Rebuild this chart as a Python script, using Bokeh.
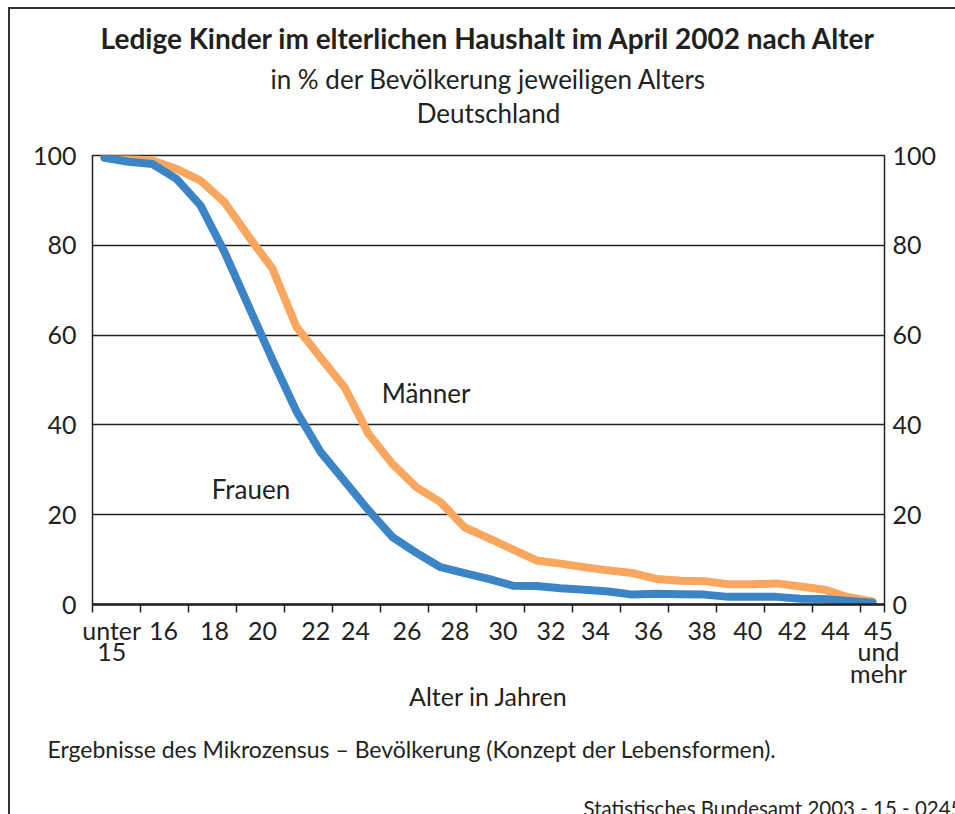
from bokeh.plotting import figure
from bokeh.models import (ColumnDataSource, Label, FixedTicker, Range1d, LinearAxis,
                          Title)
from bokeh.layouts import column
from bokeh.embed import file_html
from bokeh.resources import INLINE

# ---- data ----
age_index = list(range(33))  # 0 = "unter 15" ... 32 = "45 und mehr"
maenner = [99.6, 99.2, 98.9, 97.0, 94.4, 89.6, 82.0, 74.8, 61.8, 55.0, 48.4, 38.0,
           31.3, 26.1, 22.8, 17.2, 14.8, 12.3, 9.8, 9.1, 8.3, 7.6, 7.0, 5.7, 5.3,
           5.2, 4.5, 4.5, 4.7, 4.0, 3.3, 1.6, 0.7]
frauen = [99.5, 98.6, 98.1, 94.8, 88.9, 78.5, 66.5, 54.5, 43.0, 34.0, 27.5, 21.0,
          15.0, 11.5, 8.3, 7.0, 5.7, 4.2, 4.1, 3.6, 3.3, 2.9, 2.2, 2.4, 2.3,
          2.2, 1.7, 1.7, 1.7, 1.3, 1.2, 0.8, 0.4]

x_labels = ["unter\n15", "16", "18", "20", "22", "24", "26", "28", "30", "32",
            "34", "36", "38", "40", "42", "44", "45\nund\nmehr"]
x_label_pos = [0.3, 2.46, 4.58, 6.58, 8.8, 10.46, 12.6, 14.6, 16.6, 18.6,
               20.46, 22.67, 24.9, 26.8, 28.67, 30.46, 32.25]
x_tick_marks = [-0.5 + 2 * k for k in range(17)] + [32.5]
y_ticks = [0, 20, 40, 60, 80, 100]
y_grid = [20, 40, 60, 80]

title = "Ledige Kinder im elterlichen Haushalt im April 2002 nach Alter"
subtitle = "in % der Bevölkerung jeweiligen Alters"
region = "Deutschland"
x_title = "Alter in Jahren"
footnote = "Ergebnisse des Mikrozensus – Bevölkerung (Konzept der Lebensformen)."
source_note = "Statistisches Bundesamt 2003 - 15 - 0245"

FONT = "Lato"
TXT = "#231f20"
BLUE = "#3b84c6"
ORANGE = "#f9a65e"
LINE = "#222222"

p = figure(frame_width=792, frame_height=449,
           min_border_left=82, min_border_right=71,
           min_border_top=146, min_border_bottom=210,
           x_range=Range1d(-0.5, 32.5), y_range=Range1d(0, 100),
           output_backend="svg", toolbar_location=None, tools="")
p.background_fill_color = "white"
p.border_fill_color = "white"
p.outline_line_color = LINE
p.outline_line_width = 1.5

# grid
p.xgrid.visible = False
p.ygrid.ticker = FixedTicker(ticks=y_grid)
p.ygrid.grid_line_color = LINE
p.ygrid.grid_line_width = 1.3

# x axis: labels as major ticks (no marks), tick marks as minor ticks
xa = p.xaxis[0]
xa.ticker = FixedTicker(ticks=x_label_pos, minor_ticks=x_tick_marks)
xa.major_label_overrides = {pos: lab for pos, lab in zip(x_label_pos, x_labels)}
xa.axis_line_color = LINE
xa.axis_line_width = 2.5
xa.major_tick_line_color = None
xa.major_tick_out = 0
xa.major_tick_in = 0
xa.minor_tick_line_color = LINE
xa.minor_tick_line_width = 1.5
xa.minor_tick_out = 8
xa.minor_tick_in = 0
xa.major_label_standoff = 2
xa.major_label_text_font = FONT
xa.major_label_text_font_size = "25px"
xa.major_label_text_color = TXT
xa.major_label_text_line_height = 0.72
xa.axis_label = x_title
xa.axis_label_standoff = -10
xa.axis_label_text_font = FONT
xa.axis_label_text_font_size = "25px"
xa.axis_label_text_font_style = "normal"
xa.axis_label_text_color = TXT

# y axes on both sides
ya = p.yaxis[0]
yr = LinearAxis()
p.add_layout(yr, "right")
for ax, so in ((ya, 16), (yr, 8)):
    ax.ticker = FixedTicker(ticks=y_ticks)
    ax.axis_line_color = None
    ax.major_tick_line_color = None
    ax.minor_tick_line_color = None
    ax.major_tick_out = 0
    ax.major_tick_in = 0
    ax.major_label_standoff = so
    ax.major_label_text_font = FONT
    ax.major_label_text_font_size = "25px"
    ax.major_label_text_color = TXT

src = ColumnDataSource(dict(x=age_index, m=maenner, f=frauen))
p.line("x", "m", source=src, line_color=ORANGE, line_width=8,
       line_cap="round", line_join="round")
p.line("x", "f", source=src, line_color=BLUE, line_width=8,
       line_cap="round", line_join="round")

# series labels
p.add_layout(Label(x=13.4, y=47, text="Männer", text_font=FONT, text_font_size="26px",
                   text_color=TXT, text_align="center", text_baseline="middle"))
p.add_layout(Label(x=6.1, y=25.8, text="Frauen", text_font=FONT, text_font_size="26px",
                   text_color=TXT, text_align="center", text_baseline="middle"))

# heading block above the frame (from the frame outwards)
top_axis = LinearAxis(ticker=FixedTicker(ticks=[]), axis_label=region,
                      axis_line_color=None, major_tick_line_color=None,
                      minor_tick_line_color=None, major_tick_out=0, major_tick_in=0,
                      minor_tick_out=0, minor_tick_in=0, major_label_standoff=0,
                      axis_label_standoff=27, axis_label_text_font=FONT,
                      axis_label_text_font_size="26px",
                      axis_label_text_font_style="normal",
                      axis_label_text_color=TXT)
p.add_layout(top_axis, "above")
p.add_layout(Title(text=subtitle, align="center", text_font=FONT, text_font_size="26px",
                   text_font_style="normal", text_color=TXT, standoff=-2), "above")
p.add_layout(Title(text=title, align="center", text_font=FONT, text_font_size="28px",
                   text_font_style="bold", text_color=TXT, standoff=14), "above")

# notes below
p.add_layout(Title(text=footnote, align="left", offset=-45, text_font=FONT,
                   text_font_size="23px", text_font_style="normal", text_color=TXT,
                   standoff=38), "below")
p.add_layout(Title(text=source_note, align="right", offset=-78, text_font=FONT,
                   text_font_size="20.5px", text_font_style="normal", text_color=TXT,
                   standoff=25), "below")

inner = column(p, styles={"border-left": "2px solid #333333",
                          "border-top": "2px solid #333333"})
outer = column(inner, styles={"padding-left": "8px", "padding-top": "7px"})

open("out.html", "w").write(file_html(outer, INLINE))
